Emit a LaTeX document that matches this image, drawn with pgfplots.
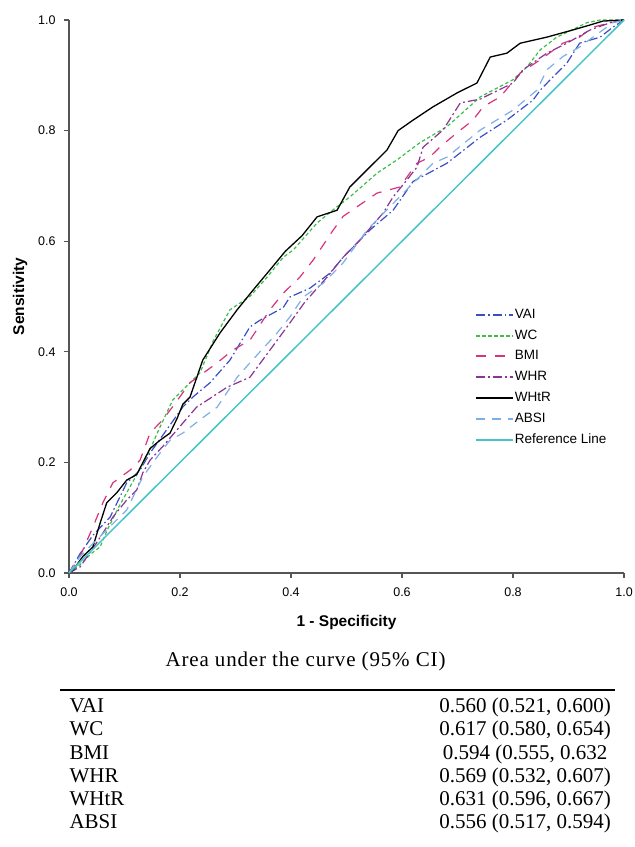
\documentclass[border=0pt]{standalone}
\usepackage{fontspec}
\setmainfont{Liberation Sans}
\newfontfamily\tnr{Liberation Serif}
\newfontfamily\tnrw[LetterSpace=4]{Liberation Serif}
\usepackage{pgfplots}
\pgfplotsset{compat=1.18}
\definecolor{cVAI}{RGB}{59,79,196}
\definecolor{cWC}{RGB}{62,190,72}
\definecolor{cBMI}{RGB}{214,52,124}
\definecolor{cWHR}{RGB}{139,52,150}
\definecolor{cABSI}{RGB}{125,175,228}
\definecolor{cREF}{RGB}{72,196,200}
\definecolor{axgray}{RGB}{85,85,85}
\begin{document}
\begin{tikzpicture}[x=1bp,y=1bp]
\path[use as bounding box] (0,0) rectangle (635,847);
\begin{axis}[
  at={(69bp,274bp)}, anchor=south west,
  scale only axis, width=555bp, height=553bp,
  xmin=0, xmax=1, ymin=0, ymax=1,
  axis lines=left, axis line style={-, axgray, line width=1.1bp},
  tick style={axgray, line width=1.1bp},
  tick align=outside, major tick length=5bp,
  xtick={0,0.2,0.4,0.6,0.8,1}, ytick={0,0.2,0.4,0.6,0.8,1},
  minor tick num=0,
  ticklabel style={font=\fontsize{12.5bp}{14bp}\selectfont},
  /pgf/number format/fixed, /pgf/number format/fixed zerofill, /pgf/number format/precision=1,
  /pgf/number format/assume math mode=true,
  xticklabel style={yshift=-6bp},
  yticklabel style={xshift=-5bp},
  xlabel={1 - Specificity}, ylabel={Sensitivity},
  every axis x label/.style={at={(rel axis cs:0.5,0)}, yshift=-49bp, anchor=center, font=\bfseries\fontsize{15.5bp}{18bp}\selectfont},
  every axis y label/.style={at={(rel axis cs:0,0.5)}, xshift=-49bp, rotate=90, anchor=center, font=\bfseries\fontsize{15.5bp}{18bp}\selectfont},
  legend style={at={(axis cs:0.732,0.479)}, anchor=north west, draw=none, fill=none, inner sep=0pt,
    font=\fontsize{13.5bp}{15bp}\selectfont, row sep=7.8bp,
    nodes={inner sep=0.5bp, text height=9.5bp, text depth=2.5bp}},
  legend cell align=left,
  legend image code/.code={\draw[#1, line width=2bp] (0bp,0bp) -- (37bp,0bp);},
  clip=false,
]
\addplot[cVAI, line width=1.2bp, dash pattern=on 9bp off 3bp on 1.5bp off 3bp] coordinates {
(0,0) (0.02,0.035) (0.043,0.068) (0.074,0.101) (0.104,0.163) (0.128,0.186) (0.146,0.217) (0.159,0.235)
(0.205,0.3) (0.223,0.318) (0.254,0.344) (0.29,0.385) (0.326,0.445) (0.344,0.457) (0.386,0.48) (0.398,0.499)
(0.434,0.515) (0.47,0.542) (0.494,0.571) (0.542,0.62) (0.584,0.656) (0.62,0.708) (0.668,0.734) (0.681,0.741)
(0.741,0.788) (0.789,0.819) (0.836,0.855) (0.849,0.873) (0.872,0.897) (0.897,0.922) (0.92,0.958) (0.957,0.969)
(0.98,0.987) (1,1)};
\addlegendentry{VAI}
\addplot[cWC, line width=1.2bp, dash pattern=on 3.5bp off 2.5bp] coordinates {
(0,0) (0.02,0.015) (0.04,0.035) (0.056,0.047) (0.07,0.08) (0.09,0.12) (0.11,0.156) (0.14,0.21) (0.164,0.264)
(0.187,0.313) (0.205,0.331) (0.236,0.362) (0.26,0.42) (0.29,0.476) (0.326,0.5) (0.357,0.535) (0.386,0.571)
(0.404,0.584) (0.447,0.633) (0.48,0.66) (0.506,0.68) (0.555,0.723) (0.591,0.747) (0.632,0.778) (0.681,0.807)
(0.741,0.861) (0.8,0.892) (0.825,0.915) (0.849,0.946) (0.879,0.969) (0.933,0.995) (0.957,1.0) (1,1)};
\addlegendentry{WC}
\addplot[cBMI, line width=1.2bp, dash pattern=on 10bp off 9bp] coordinates {
(0,0) (0.02,0.03) (0.043,0.083) (0.061,0.127) (0.079,0.163) (0.11,0.186) (0.128,0.204) (0.146,0.253)
(0.169,0.277) (0.19,0.305) (0.218,0.344) (0.267,0.38) (0.295,0.403) (0.326,0.421) (0.362,0.476) (0.386,0.506)
(0.416,0.535) (0.44,0.566) (0.476,0.62) (0.494,0.645) (0.555,0.687) (0.596,0.698) (0.627,0.741) (0.65,0.752)
(0.668,0.77) (0.699,0.796) (0.728,0.819) (0.746,0.843) (0.777,0.861) (0.813,0.904) (0.849,0.928) (0.89,0.958)
(0.92,0.969) (0.944,0.987) (0.98,0.996) (1,1)};
\addlegendentry{BMI}
\addplot[cWHR, line width=1.2bp, dash pattern=on 9bp off 3bp on 2bp off 3bp] coordinates {
(0,0) (0.02,0.011) (0.04,0.04) (0.061,0.072) (0.079,0.101) (0.104,0.132) (0.122,0.15) (0.133,0.181) (0.146,0.204)
(0.17,0.23) (0.205,0.271) (0.23,0.3) (0.285,0.336) (0.326,0.354) (0.362,0.403) (0.395,0.448) (0.425,0.49)
(0.465,0.535) (0.494,0.571) (0.524,0.602) (0.566,0.651) (0.584,0.68) (0.609,0.711) (0.627,0.734) (0.638,0.77)
(0.674,0.801) (0.705,0.85) (0.741,0.857) (0.8,0.886) (0.818,0.91) (0.861,0.94) (0.897,0.958) (0.939,0.982)
(0.975,0.995) (1,1)};
\addlegendentry{WHR}
\addplot[black, line width=1.3bp] coordinates {
(0,0) (0.007,0.005) (0.025,0.03) (0.043,0.047) (0.056,0.09) (0.068,0.127) (0.086,0.145) (0.104,0.168)
(0.122,0.178) (0.146,0.225) (0.164,0.24) (0.182,0.253) (0.195,0.28) (0.205,0.305) (0.218,0.318) (0.241,0.385)
(0.272,0.434) (0.303,0.476) (0.332,0.512) (0.362,0.548) (0.39,0.582) (0.42,0.61) (0.447,0.644) (0.483,0.656)
(0.506,0.698) (0.542,0.734) (0.573,0.765) (0.593,0.8) (0.62,0.819) (0.656,0.843) (0.699,0.868) (0.735,0.886)
(0.759,0.933) (0.789,0.94) (0.813,0.958) (0.861,0.969) (0.908,0.982) (0.939,0.991) (0.962,0.998) (1,1)};
\addlegendentry{WHtR}
\addplot[cABSI, line width=1.2bp, dash pattern=on 9bp off 7bp] coordinates {
(0,0) (0.02,0.03) (0.05,0.06) (0.08,0.09) (0.104,0.114) (0.133,0.174) (0.164,0.217) (0.182,0.24) (0.205,0.253)
(0.236,0.277) (0.267,0.3) (0.303,0.354) (0.326,0.38) (0.375,0.434) (0.398,0.463) (0.422,0.499) (0.458,0.524)
(0.494,0.561) (0.537,0.62) (0.578,0.662) (0.62,0.705) (0.656,0.741) (0.681,0.752) (0.741,0.801) (0.8,0.837)
(0.843,0.873) (0.861,0.91) (0.89,0.934) (0.92,0.951) (0.944,0.969) (0.98,0.995) (1,1)};
\addlegendentry{ABSI}
\addplot[cREF, line width=1.5bp] coordinates {(0,0) (1,1)};
\addlegendentry{Reference Line}
\end{axis}
\node[anchor=base, font=\tnrw\fontsize{21bp}{23bp}\selectfont] at (305.5,180) {Area under the curve (95\% CI)};
\draw[line width=2.4bp] (60,157) -- (615,157);
\begin{scope}[every node/.style={font=\tnr\fontsize{21bp}{23bp}\selectfont}]
\node[anchor=base west] at (66,134) {VAI};
\node[anchor=base] at (525,134) {0.560 (0.521, 0.600)};
\node[anchor=base west] at (66,111) {WC};
\node[anchor=base] at (525,111) {0.617 (0.580, 0.654)};
\node[anchor=base west] at (66,87) {BMI};
\node[anchor=base] at (525,87) {0.594 (0.555, 0.632};
\node[anchor=base west] at (66,64) {WHR};
\node[anchor=base] at (525,64) {0.569 (0.532, 0.607)};
\node[anchor=base west] at (66,41) {WHtR};
\node[anchor=base] at (525,41) {0.631 (0.596, 0.667)};
\node[anchor=base west] at (66,18) {ABSI};
\node[anchor=base] at (525,18) {0.556 (0.517, 0.594)};
\end{scope}
\end{tikzpicture}
\end{document}
